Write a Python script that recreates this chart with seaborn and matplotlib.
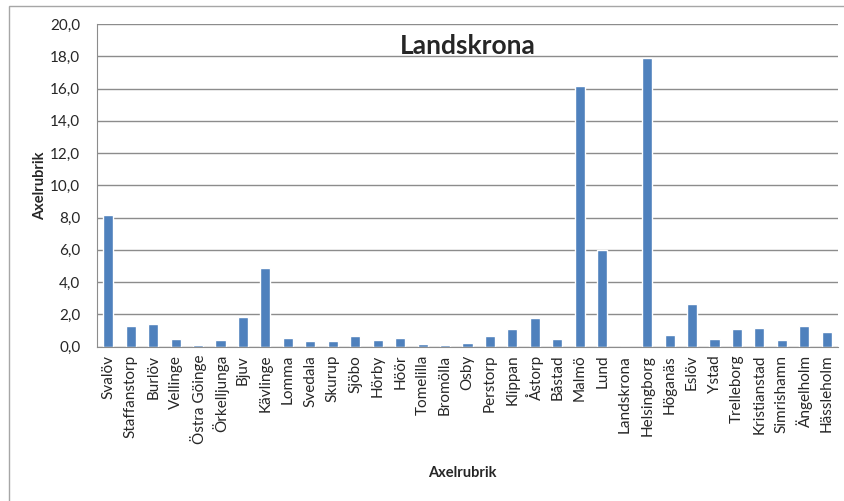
import pandas as pd
import matplotlib.pyplot as plt
import seaborn as sns
from matplotlib.ticker import FuncFormatter, MultipleLocator
from matplotlib.patches import Rectangle

# Kommuner och värden
kommuner = ["Svalöv", "Staffanstorp", "Burlöv", "Vellinge", "Östra Göinge",
            "Örkelljunga", "Bjuv", "Kävlinge", "Lomma", "Svedala", "Skurup",
            "Sjöbo", "Hörby", "Höör", "Tomelilla", "Bromölla", "Osby",
            "Perstorp", "Klippan", "Åstorp", "Båstad", "Malmö", "Lund",
            "Landskrona", "Helsingborg", "Höganäs", "Eslöv", "Ystad",
            "Trelleborg", "Kristianstad", "Simrishamn", "Ängelholm",
            "Hässleholm"]
varden = [8.15, 1.25, 1.37, 0.46, 0.11,
          0.38, 1.83, 4.88, 0.51, 0.33, 0.35,
          0.64, 0.42, 0.52, 0.17, 0.10, 0.23,
          0.64, 1.10, 1.78, 0.46, 16.15, 5.97,
          0.0, 17.88, 0.73, 2.61, 0.46,
          1.07, 1.13, 0.38, 1.25,
          0.90]
titel = "Landskrona"
axeltitel = "Axelrubrik"

data = pd.DataFrame({"Kommun": kommuner, "Varde": varden})

sns.set_style("white")
plt.rcParams['font.family'] = ['Lato', 'DejaVu Sans']

fig = plt.figure(figsize=(8.44, 5.01), dpi=100)
ax = fig.add_axes([97 / 844, 1 - 346.5 / 501, (838 - 97) / 844, (346.5 - 24) / 501])

# yttre ram som i Excel
fig.patches.append(Rectangle((9 / 844, -0.1), 1.2, 1.1 - 6 / 501,
                             transform=fig.transFigure, fill=False,
                             edgecolor="#a6a6a6", linewidth=1))

sns.barplot(x="Kommun", y="Varde", data=data, color="#4f81bd",
            width=0.45, saturation=1, ax=ax)

ax.set_ylim(0, 20)
ax.set_xlim(-0.5, len(kommuner) - 0.5)
ax.yaxis.set_major_locator(MultipleLocator(2))
ax.yaxis.set_major_formatter(FuncFormatter(lambda v, p: f"{v:.1f}".replace(".", ",")))
ax.grid(axis="y", color="#8c8c8c", linewidth=1)
ax.set_axisbelow(True)

for s in ["top", "right"]:
    ax.spines[s].set_visible(False)
ax.spines["left"].set_color("#8c8c8c")
ax.spines["bottom"].set_color("#8c8c8c")

ax.tick_params(axis="y", labelsize=11, length=0, pad=12)
ax.tick_params(axis="x", labelsize=11, length=0, pad=6)
plt.xticks(rotation=90)

ax.set_title(titel, fontsize=19, fontweight="bold", y=0.88)
ax.set_xlabel(axeltitel, fontsize=10.5, fontweight="bold")
ax.set_ylabel(axeltitel, fontsize=10.5, fontweight="bold")
ax.xaxis.set_label_coords(0.493, -(466 - 346.5) / 322.5)
ax.yaxis.set_label_coords(-(97 - 47) / 741, 0.5)

fig.savefig("out.png", dpi=100)
